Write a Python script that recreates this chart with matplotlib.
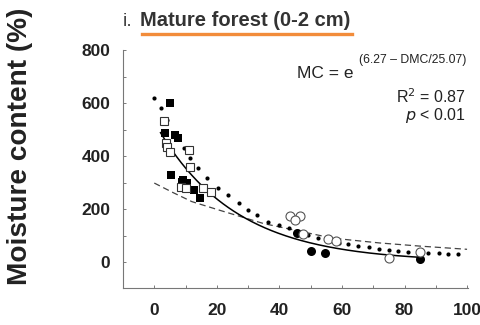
import numpy as np
import matplotlib
matplotlib.use('Agg')
import matplotlib.pyplot as plt
from matplotlib.lines import Line2D
from matplotlib.ticker import MultipleLocator

plt.rcParams['font.family'] = ['Liberation Sans', 'DejaVu Sans']

# data (DMC on x, moisture content % on y)
filled_sq_x = [5, 3.5, 6.5, 7.5, 5.3, 8.8, 10.4, 12.6, 14.7, 9.3]
filled_sq_y = [600, 488, 480, 468, 328, 303, 300, 272, 240, 309]
open_sq_x = [3, 3.8, 4, 5, 11, 11.5, 8.5, 10, 15.5, 18]
open_sq_y = [532, 450, 435, 416, 423, 358, 284, 280, 278, 265]
filled_circ_x = [45.5, 50, 54.5, 85]
filled_circ_y = [108, 40, 35, 10]
open_circ_x = [43.5, 46.5, 45, 47.5, 55.5, 58, 75, 85]
open_circ_y = [172, 172, 160, 105, 85, 78, 15, 38]

# dotted curve (drawn as dots in the original)
dot_x = [0, 2, 4, 7, 9.5, 11.5, 14, 17, 20.5, 23.5, 27, 30, 33, 36.5, 40, 43, 46,
         49, 52.5, 55.5, 59, 62, 65, 68.5, 72, 75, 78, 81, 84.5, 87.5, 91, 94, 97]
dot_y = [620, 580, 536, 467, 429, 391, 353, 316, 278, 253, 221, 196, 177, 152, 140,
         127, 115, 102, 89, 84, 71, 68, 60, 55, 48, 45, 42, 39, 37, 35, 33, 31, 30]

# dashed curve
dash_x = [0, 6, 12, 21, 35, 57, 72, 85, 100]
dash_y = [298, 262, 228, 195, 145, 90, 72, 60, 48]

# fitted curve MC = exp(a - DMC/b)
fit_a = 6.27
fit_b = 25.07
fit_range = (2, 85)

W, H = 481, 325
fig = plt.figure(figsize=(W / 100, H / 100), dpi=100)
ax = fig.add_axes([123 / W, 1 - 288 / H, (468 - 123) / W, (288 - 50) / H])

xf = np.linspace(fit_range[0], fit_range[1], 200)
ax.plot(xf, np.exp(fit_a - xf / fit_b), color='black', lw=1.1, zorder=3)
ax.plot(dash_x, dash_y, color='#444444', lw=0.9, ls=(0, (5, 3)), zorder=2)
ax.plot(dot_x, dot_y, 'o', color='black', ms=3.0, mew=0, zorder=4)

ax.plot(filled_sq_x, filled_sq_y, 's', color='black', ms=5.8, mew=0, zorder=5)
ax.plot(open_sq_x, open_sq_y, 's', mfc='white', mec='#333333', ms=5.8, mew=0.8, zorder=5)
ax.plot(filled_circ_x, filled_circ_y, 'o', color='black', ms=6.5, mew=0, zorder=5)
ax.plot(open_circ_x, open_circ_y, 'o', mfc='white', mec='#555555', ms=6.5, mew=0.8, zorder=5)

ax.set_xlim(-10, 100.3)
ax.set_ylim(-98, 800)
ax.xaxis.set_major_locator(MultipleLocator(20))
ax.xaxis.set_minor_locator(MultipleLocator(10))
ax.yaxis.set_major_locator(MultipleLocator(200))
ax.yaxis.set_minor_locator(MultipleLocator(100))
ax.tick_params(which='both', direction='in', length=2.5, width=0.6, color='#666666',
               labelsize=12.5, labelcolor='#222222')
ax.tick_params(axis='y', pad=9)
ax.tick_params(axis='x', pad=11)
for lab in ax.get_xticklabels() + ax.get_yticklabels():
    lab.set_fontweight('bold')
for side in ['top', 'right']:
    ax.spines[side].set_visible(False)
for side in ['left', 'bottom']:
    ax.spines[side].set_color('#777777')
    ax.spines[side].set_linewidth(0.8)

# equation and stats
ax.text(0.995, 0.803, 'R$^2$ = 0.87', transform=ax.transAxes, ha='right', va='center',
        fontsize=11.5, color='#222222')
ax.text(0.995, 0.723, '$p$ < 0.01', transform=ax.transAxes, ha='right', va='center',
        fontsize=11.5, color='#222222')
fig.text(297 / W, 1 - 73 / H, 'MC = e', ha='left', va='center', fontsize=12.5,
         color='#222222')
fig.text(466 / W, 1 - 60 / H, '(6.27 \u2013 DMC/25.07)', ha='right', va='center',
         fontsize=8.8, color='#222222')

fig.text(123 / W, 1 - 21 / H, 'i.', ha='left', va='center', fontsize=14, color='#444444')
fig.text(140 / W, 1 - 21 / H, 'Mature forest (0-2 cm)', ha='left', va='center',
         fontsize=14.5, fontweight='bold', color='#333333')
fig.add_artist(Line2D([142 / W, 352 / W], [1 - 34 / H, 1 - 34 / H], color='#F28C3A',
                      lw=2.4, transform=fig.transFigure))

fig.text(20 / W, 1 - 146 / H, 'Moisture content (%)', rotation=90, ha='center',
         va='center', fontsize=20.2, fontweight='bold', color='#222222')

fig.savefig('out.png', dpi=100)
